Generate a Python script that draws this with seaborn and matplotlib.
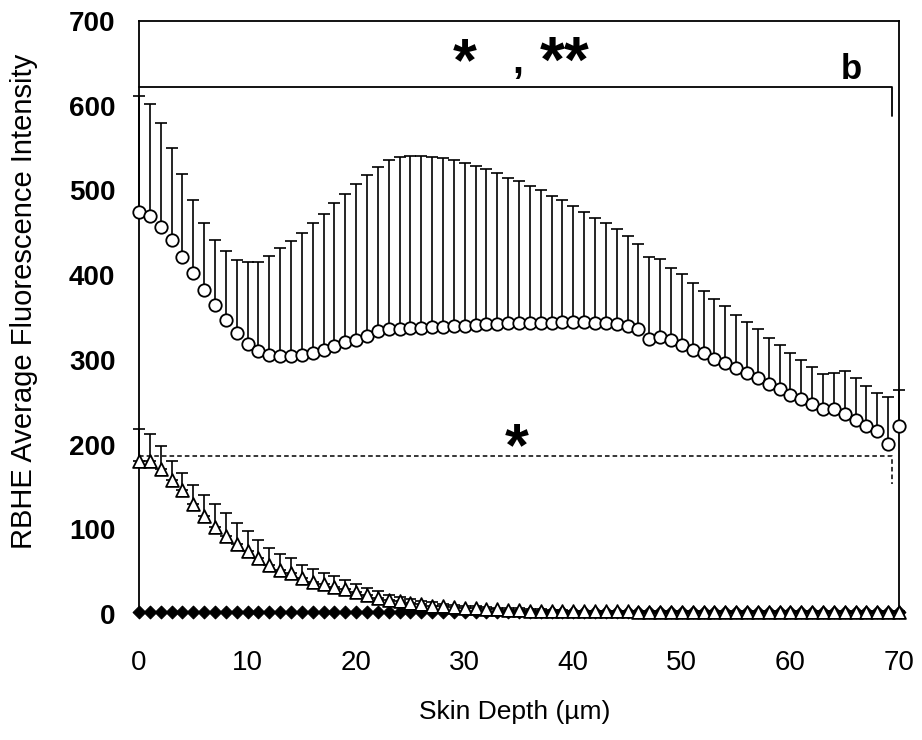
import numpy as np
import pandas as pd
import matplotlib
matplotlib.use("Agg")
import matplotlib.pyplot as plt
import seaborn as sns

# Skin depth positions (µm)
depth = list(range(0, 71))

# Open circles: mean fluorescence and upper SD
circle_mean = [474, 470, 457, 441, 422, 403, 382, 365, 347, 332,
               319, 310, 306, 304, 304, 306, 308, 312, 316, 321,
               324, 328, 334, 336, 337, 338, 338, 339, 339, 340,
               340, 341, 342, 342, 343, 343, 344, 344, 344, 345,
               345, 345, 344, 343, 342, 340, 336, 325, 327, 323,
               317, 312, 308, 301, 296, 290, 285, 279, 272, 266,
               259, 254, 248, 242, 242, 236, 229, 222, 216, 201,
               222]
circle_sd = [137, 132, 123, 109, 97, 86, 79, 77, 81, 86,
             96, 106, 117, 128, 136, 144, 153, 160, 169, 175,
             183, 190, 194, 200, 203, 203, 203, 201, 199, 196,
             192, 188, 183, 178, 172, 168, 161, 156, 150, 144,
             137, 129, 124, 118, 112, 106, 101, 97, 92, 86,
             84, 79, 73, 71, 67, 63, 60, 57, 54, 52,
             49, 46, 43, 41, 43, 51, 49, 47, 45, 55,
             42]

# Open triangles: mean fluorescence and upper SD
triangle_mean = [181, 181, 171, 158, 146, 130, 116, 103, 92, 83,
                 74, 66, 58, 52, 48, 42, 38, 35, 32, 29,
                 26, 23, 19, 17, 15, 13, 11.5, 10, 9, 8,
                 7, 6.5, 6, 5.5, 5, 4.5, 4, 4, 3.5, 3.5,
                 3, 3, 3, 3, 3, 3, 2.5, 2.5, 2.5, 2.5,
                 2.5, 2.5, 2.5, 2.5, 2.5, 2.5, 2.5, 2.5, 2.5, 2.5,
                 2.5, 2.5, 2.5, 2.5, 2.5, 2.5, 2.5, 2.5, 2.5, 2.5,
                 2.5]
triangle_sd = [37, 31, 27, 23, 21, 22, 24, 27, 27, 24,
               24, 21, 20, 19, 18, 16, 15, 13, 13, 11,
               10, 8, 8, 6, 5, 5, 4, 4, 3, 3,
               3, 2.5, 2.5, 2, 2, 2, 1.5, 1.5, 1.5, 1,
               1, 1, 1, 1, 1, 1, 1, 1, 1, 1,
               1, 1, 1, 1, 1, 1, 1, 1, 1, 1,
               1, 1, 1, 1, 1, 1, 1, 1, 1, 1,
               1]

# Filled diamonds: control, essentially zero
diamond_mean = [2, 2, 2, 2, 2, 2, 2, 2, 2, 2,
                2, 2, 2, 2, 2, 2, 2, 2, 2, 2,
                2, 2, 2, 2, 2, 2, 2, 2, 2, 2,
                2, 2, 2, 2, 2, 2, 2, 2, 2, 2,
                2, 2, 2, 2, 2, 2, 2, 2, 2, 2,
                2, 2, 2, 2, 2, 2, 2, 2, 2, 2,
                2, 2, 2, 2, 2, 2, 2, 2, 2, 2,
                2]

x_ticks = [0, 10, 20, 30, 40, 50, 60, 70]
y_ticks = [0, 100, 200, 300, 400, 500, 600, 700]

# Significance brackets: (level, end of drop)
solid_bracket = (622, 588)
dashed_bracket = (186, 153)
bracket_end = 69.4

df = pd.DataFrame({
    "depth": depth,
    "circle": circle_mean, "circle_sd": circle_sd,
    "triangle": triangle_mean, "triangle_sd": triangle_sd,
    "diamond": diamond_mean,
})

sns.set_theme(style="white")
plt.rcParams["font.family"] = ["Liberation Sans", "DejaVu Sans"]
plt.rcParams["text.color"] = "black"
plt.rcParams["axes.labelcolor"] = "black"
plt.rcParams["xtick.color"] = "black"
plt.rcParams["ytick.color"] = "black"

fig = plt.figure(figsize=(9.22, 7.4), dpi=100)
ax = fig.add_axes([139 / 922, 126 / 740, 760 / 922, 593 / 740])

zeros = np.zeros(len(df))

# Diamonds (bottom layer)
sns.scatterplot(data=df, x="depth", y="diamond", marker="D", s=42,
                color="black", edgecolor="black", linewidth=0.8,
                ax=ax, clip_on=False, zorder=2, legend=False)

# Triangles with upper error bars
ax.errorbar(df["depth"], df["triangle"], yerr=[zeros, df["triangle_sd"]],
            fmt="none", ecolor="black", elinewidth=1.2, capsize=4.5,
            capthick=1.2, zorder=3, clip_on=False)
sns.scatterplot(data=df, x="depth", y="triangle", marker="^", s=85,
                facecolor="white", edgecolor="black", linewidth=1.3,
                ax=ax, clip_on=False, zorder=4, legend=False)

# Circles with upper error bars
ax.errorbar(df["depth"], df["circle"], yerr=[zeros, df["circle_sd"]],
            fmt="none", ecolor="black", elinewidth=1.2, capsize=4.5,
            capthick=1.2, zorder=5, clip_on=False)
sns.scatterplot(data=df, x="depth", y="circle", marker="o", s=80,
                facecolor="white", edgecolor="black", linewidth=1.3,
                ax=ax, clip_on=False, zorder=6, legend=False)

# Significance brackets
ax.plot([0, bracket_end, bracket_end], [solid_bracket[0]] * 2 + [solid_bracket[1]],
        color="black", lw=1.3, zorder=7, clip_on=False)
ax.plot([0, bracket_end, bracket_end], [dashed_bracket[0]] * 2 + [dashed_bracket[1]],
        color="black", lw=1.1, ls=(0, (3, 2)), zorder=7, clip_on=False)

ax.text(30.0, 648, "*", fontsize=44, fontweight="bold", ha="center", va="center")
ax.text(34.9, 651, ",", fontsize=28, fontweight="bold", ha="center", va="center")
ax.text(39.2, 648, "**", fontsize=46, fontweight="bold", ha="center", va="center")
ax.text(65.6, 643, "b", fontsize=25, fontweight="bold", ha="center", va="center")
ax.text(34.8, 194, "*", fontsize=44, fontweight="bold", ha="center", va="center")

ax.set_xlim(0, 70)
ax.set_ylim(0, 700)
ax.set_xticks(x_ticks)
ax.set_yticks(y_ticks)
ax.set_xticklabels([str(v) for v in x_ticks],
                   fontdict={"family": ["Liberation Sans Narrow", "Liberation Sans"],
                             "size": 20})
ax.set_yticklabels([str(v) for v in y_ticks],
                   fontdict={"size": 20, "weight": "bold"})
ax.tick_params(axis="both", length=0)
ax.tick_params(axis="x", pad=26)
ax.tick_params(axis="y", pad=17)

ax.set_xlabel("Skin Depth (\u00b5m)", fontsize=19)
ax.set_ylabel("RBHE Average Fluorescence Intensity", fontsize=21)
ax.xaxis.set_label_coords((515 - 139) / 760, -(700 - 614) / 593)
ax.yaxis.set_label_coords(-(139 - 38) / 760, (614 - 301) / 593)

for side in ["left", "top", "right"]:
    ax.spines[side].set_color("black")
    ax.spines[side].set_linewidth(1.3)
ax.spines["bottom"].set_visible(False)

fig.savefig("out.png", dpi=100, facecolor="white")
